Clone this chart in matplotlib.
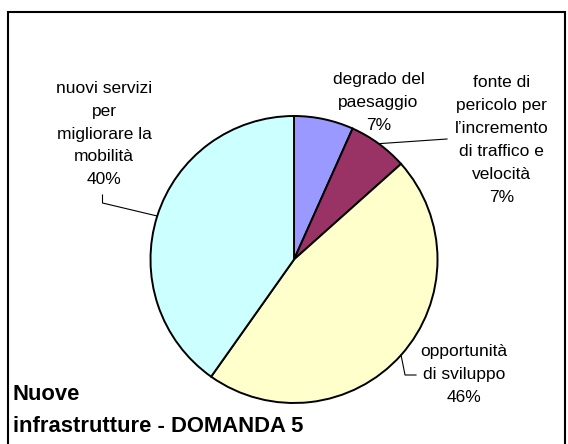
import numpy as np
import matplotlib.pyplot as plt
from matplotlib.patches import Rectangle


labels = ['degrado del\npaesaggio',
          'fonte di\npericolo per\nl\u2019incremento\ndi traffico e\nvelocità',
          'opportunità\ndi sviluppo',
          'nuovi servizi\nper\nmigliorare la\nmobilità']
shares = [6.7, 6.7, 46.4, 40.2]
colors = ['#9999FF', '#993366', '#FFFFCC', '#CCFFFF']
title = 'Nuove\ninfrastrutture - DOMANDA 5'

W, H = 568, 444  # canvas in pixels, y measured from the top below


def py(y):
  return H - y


plt.rcParams['font.family'] = ['Liberation Sans', 'DejaVu Sans']

fig = plt.figure(figsize=(W / 100, H / 100), dpi=100)
ax = fig.add_axes([0, 0, 1, 1])

cx, cy, r = 294, py(259.5), 143.5
wedges, _ = ax.pie(shares, colors=colors, startangle=90, counterclock=False,
                   radius=r, center=(cx, cy),
                   wedgeprops=dict(edgecolor='black', linewidth=1.4))
ax.set_xlim(0, W)
ax.set_ylim(0, H)
ax.axis('off')

total = sum(shares)
pct = ['%.0f%%' % (100 * s / total) for s in shares]


def edge_point(w):
  a = np.deg2rad((w.theta1 + w.theta2) / 2)
  return cx + r * np.cos(a), cy + r * np.sin(a)


# label blocks: (x centre, y centre from top)
spots = [(378.6, 102.5), (501.8, 140), (463.8, 374.5), (104, 134)]
for i, (x, y) in enumerate(spots):
  ax.text(x, py(y), labels[i] + '\n' + pct[i], ha='center', va='center',
          fontsize=12.5, linespacing=1.66, color='black')

# leader lines
lc = dict(color='black', linewidth=0.8)
ex, ey = edge_point(wedges[1])
ax.plot([ex, 447], [ey, py(139)], **lc)
ex, ey = edge_point(wedges[2])
ax.plot([ex, ex + 4, 416], [ey, py(375), py(375)], **lc)
ex, ey = edge_point(wedges[3])
ax.plot([ex, 102.5, 102.5], [ey, py(203), py(195)], **lc)

ax.text(13, py(410.5), title, ha='left', va='center', fontsize=15.8,
        fontweight='bold', linespacing=1.65)

fig.patches.append(Rectangle((8 / W, -0.05), 557 / W, 1.05 - 12 / H,
                             transform=fig.transFigure, fill=False,
                             edgecolor='black', linewidth=1.5))

fig.savefig('out.png', dpi=100)
